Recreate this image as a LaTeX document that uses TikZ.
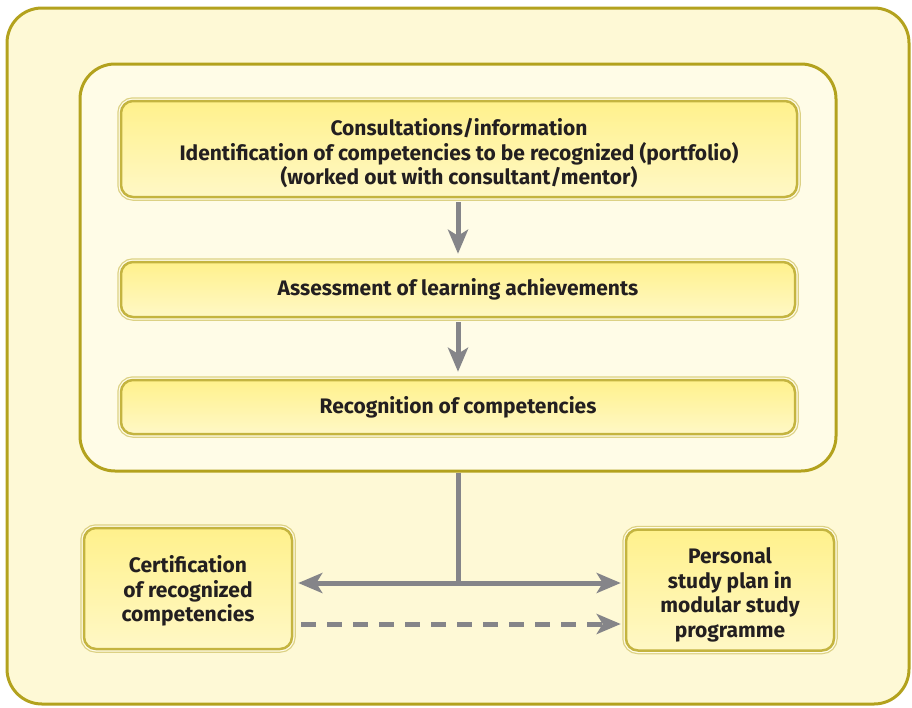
\documentclass[tikz,border=0pt]{standalone}
\usepackage{fontspec}
\setmainfont{Fira Sans}
\usetikzlibrary{arrows.meta}

\definecolor{frameline}{HTML}{B3A21E}
\definecolor{framefill}{HTML}{FEF9D6}
\definecolor{innerfill}{HTML}{FFFCE7}
\definecolor{boxdark}{HTML}{C4B440}
\definecolor{boxlight}{HTML}{DCD184}
\definecolor{boxtop}{HTML}{FFF18C}
\definecolor{boxbottom}{HTML}{FFF8C6}
\definecolor{arrowgray}{HTML}{858589}
\definecolor{textcol}{HTML}{231F20}

% strut on the first line, moves a text block down inside its box
\newcommand{\firstline}[1]{\rule{0pt}{#1}}

\tikzset{
	panel/.style={draw=frameline, line width=3, rounded corners=35},
	stepbox/.style={draw=boxdark, line width=2.5, rounded corners=12,
		top color=boxtop, bottom color=boxbottom,
		preaction={draw=boxlight, line width=7.5},
		preaction={draw=innerfill, line width=5},
		align=center, text=textcol, font=\fontsize{21}{24.5}\selectfont\bfseries},
	conn/.style={draw=arrowgray, line width=5},
	>={Stealth[length=24pt,width=20pt,inset=6pt]}
}

\begin{document}
\begin{tikzpicture}[x=1pt,y=-1pt]
	\useasboundingbox (0,0) rectangle (912,707);
	%\draw (0,0) rectangle (912,707);
	\node[panel, fill=framefill, minimum width=902, minimum height=696] (frame) at (458,356) {};
	\node[panel, fill=innerfill, minimum width=756, minimum height=407] (inner) at (458,267.5) {};

	\node[stepbox, minimum width=676, minimum height=96] (consult) at (459,149)
		{\firstline{26pt}Consultations/information\\Identification of competencies to be recognized (portfolio)\\(worked out with consultant/mentor)};
	\node[stepbox, minimum width=674, minimum height=55] (assess) at (458,289.5) {Assessment of learning achievements};
	\node[stepbox, minimum width=674, minimum height=54] (recog) at (458,407) {Recognition of competencies};

	\node[stepbox, minimum width=208, minimum height=121] (cert) at (188,588.5)
		{\firstline{22pt}Certification\\of recognized\\competencies};
	\node[stepbox, minimum width=208, minimum height=121] (plan) at (730,590)
		{\firstline{26pt}Personal\\study plan in\\modular study\\programme};

	\draw[conn, ->, shorten <=4pt, shorten >=7pt] (consult.south -| assess) -- (assess.north);
	\draw[conn, ->, shorten <=4pt, shorten >=7pt] (assess.south) -- (recog.north);

	\coordinate (split) at (458,583);
	\draw[conn] (inner.south) -- (split);
	\draw[conn, <->, shorten <=5pt, shorten >=4pt] (cert.east |- split) -- (plan.west |- split);
	\draw[conn, ->, dash pattern=on 15pt off 11pt, shorten <=8pt, shorten >=4pt]
		([yshift=-35.5pt]cert.east) -- ([yshift=-35.5pt]cert.east -| plan.west);
\end{tikzpicture}
\end{document}
